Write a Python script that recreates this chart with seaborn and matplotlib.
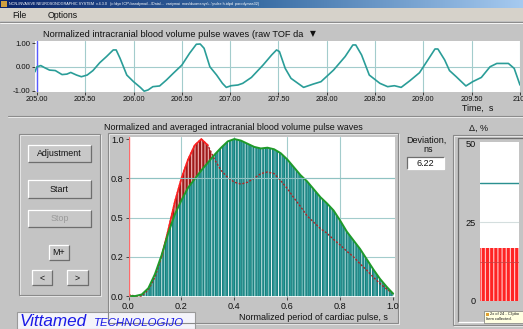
import numpy as np
import pandas as pd
import matplotlib
matplotlib.use("Agg")
import matplotlib.pyplot as plt
from matplotlib.patches import Rectangle
import seaborn as sns

# ---------------- data ----------------
# raw pulse wave (top panel)
wave_t = [204.98, 205.00, 205.04, 205.08, 205.13, 205.19, 205.26, 205.31, 205.35, 205.41,
          205.46, 205.52, 205.58, 205.65, 205.72, 205.79, 205.82, 205.86, 205.93, 206.00,
          206.07, 206.11, 206.15, 206.20, 206.27, 206.34, 206.41, 206.50, 206.58, 206.65,
          206.69, 206.73, 206.79, 206.86, 206.92, 206.96, 207.01, 207.08, 207.13, 207.22,
          207.34, 207.43, 207.48, 207.51, 207.57, 207.63, 207.76, 207.86, 207.94, 208.07,
          208.19, 208.27, 208.30, 208.36, 208.44, 208.55, 208.63, 208.70, 208.77, 208.86,
          208.96, 209.05, 209.12, 209.15, 209.22, 209.27, 209.34, 209.44, 209.51, 209.60,
          209.69, 209.76, 209.88, 209.94, 210.00]
wave_v = [-0.20, 0.01, 0.06, -0.03, -0.13, -0.15, -0.32, -0.30, -0.23, -0.34,
          -0.41, -0.34, -0.15, 0.18, 0.44, 0.72, 0.72, 0.37, -0.34, -0.62,
          -0.86, -1.02, -0.97, -0.83, -0.80, -0.55, -0.27, 0.08, 0.58, 0.96,
          0.97, 0.79, 0.01, -0.34, -0.69, -0.86, -0.79, -0.76, -0.69, -0.44,
          0.08, 0.51, 0.72, 0.65, -0.06, -0.48, -0.86, -0.72, -0.62, -0.13,
          0.44, 0.93, 0.93, 0.51, -0.34, -0.69, -0.83, -0.79, -0.86, -0.58,
          -0.24, 0.32, 0.76, 0.76, 0.30, -0.15, -0.41, -0.80, -0.62, -0.44,
          0.01, 0.15, 0.15, -0.06, -0.76]
wave_xticks = [205.0, 205.5, 206.0, 206.5, 207.0, 207.5, 208.0, 208.5, 209.0, 209.5, 210.0]
wave_xlabels = ["205.00", "205.50", "206.00", "206.50", "207.00", "207.50",
                "208.00", "208.50", "209.00", "209.50", "210."]
wave_yticks = [-1.0, 0.0, 1.0]
wave_ylabels = ["-1.00", "0.00", "1.00"]

# normalized period of cardiac pulse (main panel)
period = [0.000, 0.025, 0.050, 0.075, 0.100, 0.125, 0.150, 0.175, 0.200, 0.225,
          0.250, 0.275, 0.300, 0.325, 0.350, 0.375, 0.400, 0.425, 0.450, 0.475,
          0.500, 0.525, 0.550, 0.575, 0.600, 0.625, 0.650, 0.675, 0.700, 0.725,
          0.750, 0.775, 0.800, 0.825, 0.850, 0.875, 0.900, 0.925, 0.950, 0.975, 1.000]
averaged = [0.00, 0.00, 0.01, 0.05, 0.14, 0.26, 0.40, 0.52, 0.61, 0.69,
            0.745, 0.80, 0.85, 0.90, 0.945, 0.985, 1.00, 0.99, 0.97, 0.95,
            0.94, 0.945, 0.935, 0.91, 0.87, 0.82, 0.77, 0.73, 0.68, 0.63,
            0.59, 0.545, 0.48, 0.41, 0.355, 0.30, 0.235, 0.17, 0.11, 0.06, 0.015]
current = [0.01, 0.00, 0.00, 0.04, 0.12, 0.25, 0.42, 0.60, 0.75, 0.87,
           0.96, 1.00, 0.96, 0.87, 0.80, 0.755, 0.725, 0.713, 0.725, 0.75,
           0.78, 0.79, 0.78, 0.735, 0.685, 0.625, 0.57, 0.51, 0.47, 0.43,
           0.40, 0.36, 0.325, 0.285, 0.25, 0.205, 0.165, 0.12, 0.08, 0.045, 0.015]
main_xticks = [0.0, 0.2, 0.4, 0.6, 0.8, 1.0]
main_xlabels = ["0.0", "0.2", "0.4", "0.6", "0.8", "1.0"]
main_yticks = [0.0, 0.25, 0.5, 0.75, 1.0]
main_ylabels = ["0.0", "0.2", "0.5", "0.8", "1.0"]

deviation_ns = "6.22"
delta_pct = [16.9]
delta_limit = 37.5
delta_yticks = [0, 25, 50]

# ---------------- style ----------------
sns.set_theme(style="white")
plt.rcParams["font.family"] = ["Liberation Sans", "DejaVu Sans"]
plt.rcParams["hatch.linewidth"] = 0.85

W, H = 523, 329
PANEL = "#c4c4c4"
TXT = "#111111"
fig = plt.figure(figsize=(W / 100, H / 100), dpi=100, facecolor=PANEL)

bg = fig.add_axes([0, 0, 1, 1])
bg.set_xlim(0, W)
bg.set_ylim(H, 0)
bg.axis("off")


def rect(x0, y0, x1, y1, fc, ec="none", lw=0.0, z=1):
    bg.add_patch(Rectangle((x0, y0), x1 - x0, y1 - y0, fc=fc, ec=ec, lw=lw, zorder=z))


def bevel(x0, y0, x1, y1, raised=True, face=None, lw=0.9):
    if face is not None:
        rect(x0, y0, x1, y1, face)
    light, dark = ("#ffffff", "#6e6e6e") if raised else ("#6e6e6e", "#ffffff")
    bg.plot([x0, x0, x1], [y1, y0, y0], color=light, lw=lw, zorder=2, solid_capstyle="butt")
    bg.plot([x0, x1, x1], [y1, y1, y0], color=dark, lw=lw, zorder=2, solid_capstyle="butt")


def etched(x0, y0, x1, y1):
    bg.add_patch(Rectangle((x0, y0), x1 - x0, y1 - y0, fc="none", ec="#8a8a8a", lw=0.8, zorder=2))
    bg.add_patch(Rectangle((x0 + 1, y0 + 1), x1 - x0, y1 - y0, fc="none", ec="#f2f2f2", lw=0.6, zorder=1.9))


def px_axes(x0, y0, x1, y1):
    return fig.add_axes([x0 / W, 1 - y1 / H, (x1 - x0) / W, (y1 - y0) / H])


# title bar (gradient)
grad = np.linspace(0, 1, 256).reshape(1, -1)
cmap = matplotlib.colors.LinearSegmentedColormap.from_list("tb", ["#0a246a", "#3a6ea5", "#a6caf0"])
bg.imshow(grad, extent=[0, W, 8, 0], aspect="auto", cmap=cmap, zorder=1)
bg.set_xlim(0, W)
bg.set_ylim(H, 0)
bg.text(9, 4.2, "NON-INVASIVE NEUROSONOGRAPHIC SYSTEM  v.4.3.0   (c:\\dyn ICP\\ bandymai\\...\\Data\\...  variymai  mas\\duomenys\\...\\pulse.h.idpd  parodymas32)",
        fontsize=2.7, color="white", va="center", ha="left", zorder=3)
rect(1, 1, 7, 7, "#d0a040", z=3)

# menu bar
rect(0, 8, W, 21, "#d6d2ca")
bg.plot([0, W], [21.5, 21.5], color="#8c8c8c", lw=0.8, zorder=2)
bg.plot([0, W], [22.5, 22.5], color="#ffffff", lw=0.6, zorder=2)
bg.text(12, 15, "File", fontsize=6.3, va="center", color=TXT)
bg.text(48, 15, "Options", fontsize=6.3, va="center", color=TXT)

# separator between sections
bg.plot([8, W], [116, 116], color="#8c8c8c", lw=0.8, zorder=2)
bg.plot([8, W], [117, 117], color="#f0f0f0", lw=0.6, zorder=2)

# top title
bg.text(43, 34.5, "Normalized intracranial blood volume pulse waves (raw TOF da",
        fontsize=6.65, va="center", ha="left", color=TXT)
bg.text(313, 34, "\u25bc", fontsize=5.5, va="center", ha="center", color=TXT,
        family="DejaVu Sans")
bg.text(478, 108.8, "Time,  s", fontsize=6.4, va="center", ha="center", color=TXT)

# ---------------- top wave axes ----------------
ax_w = px_axes(35, 41, 520, 92)
ax_w.set_facecolor("white")
wave_df = pd.DataFrame({"t": wave_t, "v": wave_v})
for xv in wave_xticks:
    ax_w.axvline(xv, color="#a3cccc", lw=0.8, zorder=1)
ax_w.axhline(0, color="#a3cccc", lw=0.8, zorder=1)
ax_w.axvline(205.0, color="#5a5aff", lw=1.0, zorder=2)
sns.lineplot(data=wave_df, x="t", y="v", ax=ax_w, color="#2a9d98", lw=1.2,
             sort=False, estimator=None, zorder=3)
ax_w.set_xlim(204.98, 210.0)
ax_w.set_ylim(-1.055, 1.097)
ax_w.set_xticks(wave_xticks)
ax_w.set_xticklabels(wave_xlabels, fontsize=5.3)
ax_w.set_yticks(wave_yticks)
ax_w.set_yticklabels(wave_ylabels, fontsize=5.6)
ax_w.tick_params(axis="both", length=2, width=0.6, color="#222222", pad=1.2, colors=TXT,
                 direction="out", bottom=True, left=True)
ax_w.set_xlabel("")
ax_w.set_ylabel("")
for s in ax_w.spines.values():
    s.set_visible(False)

# ---------------- left control panel ----------------
etched(19, 134, 100, 295)
buttons = [("Adjustment", 28, 145, 91, 162, TXT),
           ("Start", 28, 180, 91, 198, TXT),
           ("Stop", 28, 210, 91, 227, "#9a9a9a"),
           ("M+", 49, 245, 69, 260, TXT),
           ("<", 32, 270, 52, 285, TXT),
           (">", 67, 270, 88, 285, TXT)]
for label, x0, y0, x1, y1, col in buttons:
    bevel(x0, y0, x1, y1, raised=True, face="#c8c8c8")
    bg.text((x0 + x1) / 2, (y0 + y1) / 2 + 0.3, label, fontsize=6.4, ha="center", va="center",
            color=col, zorder=3)

# logo
rect(17, 312, 195, 329, "#f4f4fa", ec="#9a9a9a", lw=0.8, z=2)
bg.text(20, 321.5, "Vittamed", fontsize=12.3, style="italic", color="#1a1ae6", va="center", ha="left", zorder=3)
bg.text(94, 322.5, "TECHNOLOGIJO", fontsize=8.2, style="italic", color="#1a1ae6", va="center", ha="left", zorder=3)

# ---------------- main panel ----------------
etched(108, 133, 398, 323)
bg.text(233, 127, "Normalized and averaged intracranial blood volume pulse waves",
        fontsize=6.45, ha="center", va="center", color=TXT)
bg.text(313, 318, "Normalized period of cardiac pulse, s", fontsize=6.5, ha="center", va="center", color=TXT)

ax = px_axes(128.5, 137, 394.5, 297)
ax.set_facecolor("white")
pdf = pd.DataFrame({"period": period, "averaged": averaged, "current": current})
for xv in [0.2, 0.4, 0.6, 0.8]:
    ax.axvline(xv, color="#a3cccc", lw=0.8, zorder=0.5)
for yv in [0.25, 0.5, 0.75]:
    ax.axhline(yv, color="#a3cccc", lw=0.8, zorder=0.5)
ax.axhline(0.75, color="#8fc2c2", lw=0.8, zorder=4)

pa = np.array(period)
ga = np.array(averaged)
ca = np.array(current)
# teal striped area under averaged curve
ax.fill_between(pa, 0, ga, facecolor="#2b9c9a", edgecolor="#f2fafa", hatch="|||||", lw=0, zorder=1)
ax.fill_between(pa, 0, ga, facecolor="none", edgecolor="#1a7f7e", hatch="|||||||", lw=0, zorder=1.1)
# red striped area where current pulse exceeds the average
above = ca >= ga
ax.fill_between(pa, ga, ca, where=above, interpolate=True, facecolor="#9e1a1a",
                edgecolor="#eeb0b0", hatch="|||||", lw=0, zorder=1.2)

sns.lineplot(data=pdf, x="period", y="current", ax=ax, color="#b02424", lw=1.0,
             linestyle=(0, (1.5, 1.2)), sort=False, estimator=None, zorder=3)
rise = pdf[(pdf["period"] >= 0.125) & (pdf["period"] <= 0.30)]
sns.lineplot(data=rise, x="period", y="current", ax=ax, color="#ff2020", lw=1.2,
             sort=False, estimator=None, zorder=3.2)
sns.lineplot(data=pdf, x="period", y="averaged", ax=ax, color="#1f9a2a", lw=1.4,
             sort=False, estimator=None, zorder=3.5)
ax.axvline(0.0, color="#ff6a6a", lw=1.0, zorder=5)

ax.set_xlim(0, 1.005)
ax.set_ylim(-0.006, 1.013)
ax.set_xticks(main_xticks)
ax.set_xticklabels(main_xlabels, fontsize=6.6)
ax.set_yticks(main_yticks)
ax.set_yticklabels(main_ylabels, fontsize=6.6)
ax.tick_params(axis="both", length=2, width=0.6, color="#333333", pad=1.5, colors=TXT,
               direction="out", bottom=True, left=True)
ax.set_xlabel("")
ax.set_ylabel("")
for s in ax.spines.values():
    s.set_visible(False)

# ---------------- deviation ----------------
bg.text(426, 140.5, "Deviation,", fontsize=6.5, ha="center", va="center", color=TXT)
bg.text(428, 149.5, "ns", fontsize=6.5, ha="center", va="center", color=TXT)
bevel(407, 157, 444, 169, raised=False, face="white")
bg.text(425.5, 163.2, deviation_ns, fontsize=6.5, ha="center", va="center", color=TXT, zorder=3)

# ---------------- delta panel ----------------
etched(453, 135, 530, 325)
bevel(458, 138, 530, 322, raised=False)
bg.text(479, 128.5, "\u0394, %", fontsize=6.5, ha="center", va="center", color=TXT)

ax_d = px_axes(480, 142, 519, 301)
ax_d.set_facecolor("white")
for yv in [12.5, 25, 37.5]:
    ax_d.axhline(yv, color="#d4dede", lw=0.8, zorder=0.5)
ax_d.bar([0.5], delta_pct, width=1.0, color="#ff2424", edgecolor="#ffc4c4",
         hatch="||||", lw=0, zorder=1)
ax_d.axhline(delta_limit, color="#2a9090", lw=1.0, zorder=3)
ax_d.axhline(12.5, color="#c84040", lw=0.5, zorder=2)
ax_d.set_xlim(0, 1)
ax_d.set_ylim(0, 50.5)
ax_d.set_xticks([])
ax_d.set_yticks(delta_yticks)
ax_d.set_yticklabels([str(v) for v in delta_yticks], fontsize=6.6)
ax_d.tick_params(axis="y", length=0, pad=3, colors=TXT, left=True)
for s in ax_d.spines.values():
    s.set_visible(False)

# tooltip
rect(484, 311, 530, 323, "#ffffe1", ec="#7a7a7a", lw=0.5, z=6)
rect(486, 312.5, 489, 315.5, "#e0a030", z=7)
bg.text(490, 314, "2x of 24 - Clipbo", fontsize=2.9, va="center", ha="left", color=TXT, zorder=7)
bg.text(486, 319.5, "Item collected.", fontsize=2.9, va="center", ha="left", color=TXT, zorder=7)

for a in (ax_w, ax, ax_d):
    a.set_zorder(2)
bg.set_zorder(1)
bg.patch.set_visible(False)

fig.savefig("out.png", dpi=100, facecolor=PANEL)
